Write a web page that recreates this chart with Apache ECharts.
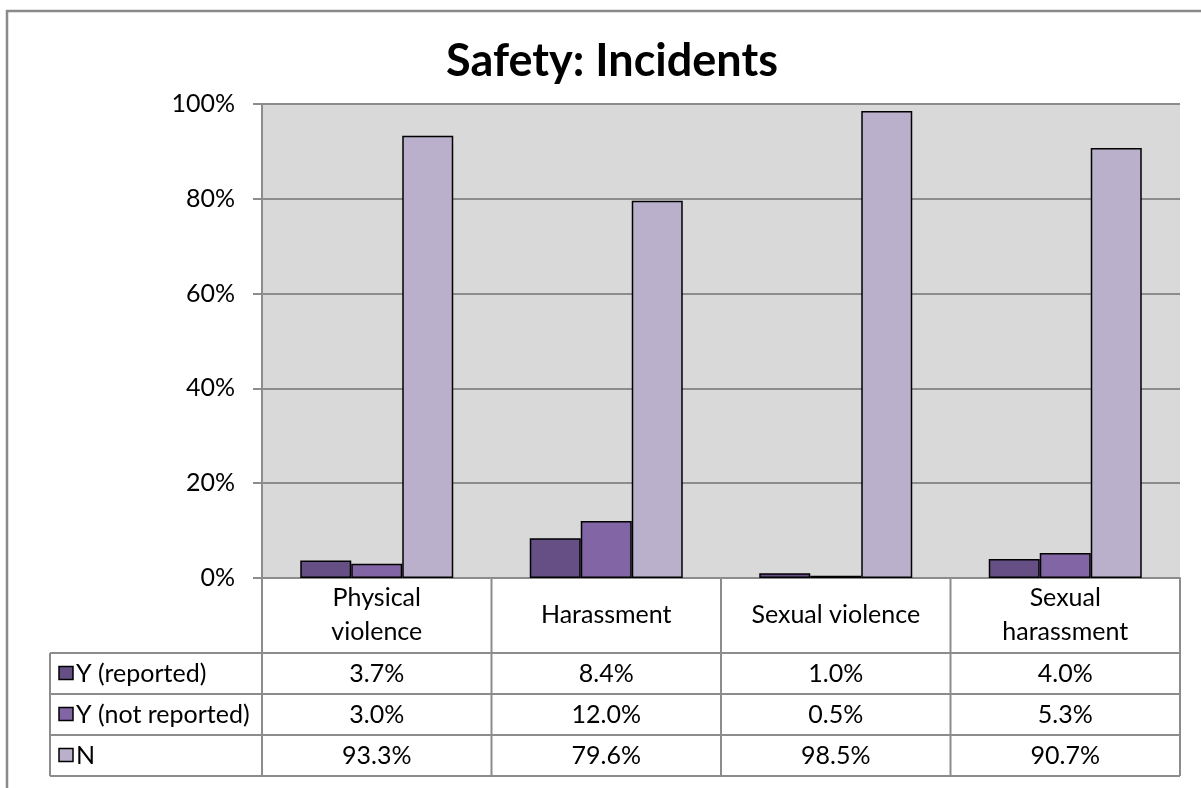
<!DOCTYPE html>
<html>
<head>
<meta charset="utf-8">
<script src="https://cdn.jsdelivr.net/npm/echarts@6/dist/echarts.min.js"></script>
<style>
html,body{margin:0;padding:0;background:#fff;}
#chart{width:1201px;height:788px;}
</style>
</head>
<body>
<div id="chart"></div>
<script>
// ---- data ----
var categories = ['Physical violence', 'Harassment', 'Sexual violence', 'Sexual harassment'];
var categoryLabels = ['Physical\nviolence', 'Harassment', 'Sexual violence', 'Sexual\nharassment'];
var seriesNames = ['Y (reported)', 'Y (not reported)', 'N'];
var yReported = [3.7, 8.4, 1.0, 4.0];
var yNotReported = [3.0, 12.0, 0.5, 5.3];
var nValues = [93.3, 79.6, 98.5, 90.7];
var yTicks = [0, 20, 40, 60, 80, 100];
var titleText = 'Safety: Incidents';

// ---- style / layout ----
var colors = ['#654F84', '#8265A5', '#BAB0CC'];
var FONT = 'Lato, "Liberation Sans", sans-serif';
var FS = 25;
var gridLeft = 262, gridRight = 1180, gridTop = 104, gridBottom = 578;
var tableLeft = 50;
var rowLines = [653, 694, 735, 776];
var lineColor = '#8C8C8C';

var allSeries = [yReported, yNotReported, nValues];

var chart = echarts.init(document.getElementById('chart'), null, {renderer: 'canvas'});

var graphics = [];
// outer frame (extends beyond the picture on right and bottom)
graphics.push({
  type: 'polyline', silent: true,
  shape: {points: [[7, 800], [7, 11], [1210, 11]]},
  style: {stroke: '#8A8A8A', lineWidth: 2.5, fill: null}
});
var colW = (gridRight - gridLeft) / categories.length;
// horizontal table lines
rowLines.forEach(function (y) {
  graphics.push({
    type: 'line', silent: true,
    shape: {x1: tableLeft, y1: y, x2: gridRight, y2: y},
    style: {stroke: lineColor, lineWidth: 2}
  });
});
// vertical table lines
for (var c = 0; c <= categories.length; c++) {
  var x = gridLeft + c * colW;
  graphics.push({
    type: 'line', silent: true,
    shape: {x1: x, y1: gridBottom, x2: x, y2: rowLines[rowLines.length - 1]},
    style: {stroke: lineColor, lineWidth: 2}
  });
}
graphics.push({
  type: 'line', silent: true,
  shape: {x1: tableLeft, y1: rowLines[0], x2: tableLeft, y2: rowLines[rowLines.length - 1]},
  style: {stroke: lineColor, lineWidth: 2}
});
// table rows: legend key + values
for (var r = 0; r < seriesNames.length; r++) {
  var cy = (rowLines[r] + rowLines[r + 1]) / 2;
  graphics.push({
    type: 'rect', silent: true,
    shape: {x: 59, y: cy - 7, width: 14, height: 13},
    style: {fill: colors[r], stroke: '#000', lineWidth: 1.5}
  });
  graphics.push({
    type: 'text', silent: true,
    style: {x: 76, y: cy, text: seriesNames[r], fill: '#000', font: FS + 'px ' + FONT, verticalAlign: 'middle', align: 'left'}
  });
  for (var c2 = 0; c2 < categories.length; c2++) {
    graphics.push({
      type: 'text', silent: true,
      style: {
        x: gridLeft + (c2 + 0.5) * colW, y: cy,
        text: allSeries[r][c2].toFixed(1) + '%',
        fill: '#000', font: FS + 'px ' + FONT, verticalAlign: 'middle', align: 'center'
      }
    });
  }
}

var barStyle = function (i) {
  return {color: colors[i], borderColor: '#000', borderWidth: 1.5};
};

var option = {
  animation: false,
  backgroundColor: '#fff',
  title: {
    text: titleText, left: 607, top: 34, textAlign: 'center',
    textStyle: {fontFamily: FONT, fontWeight: 'bold', fontSize: 45, color: '#000'}
  },
  grid: {
    left: gridLeft, top: gridTop, width: gridRight - gridLeft, height: gridBottom - gridTop,
    show: true, backgroundColor: '#D9D9D9', borderWidth: 0, containLabel: false
  },
  xAxis: {
    type: 'category',
    data: categories,
    axisLine: {show: true, lineStyle: {color: lineColor, width: 2}},
    axisTick: {show: false},
    axisLabel: {
      formatter: function (v, idx) { return categoryLabels[idx]; },
      fontFamily: FONT, fontSize: FS, color: '#000', lineHeight: 34,
      margin: 37, verticalAlign: 'middle', align: 'center', interval: 0
    },
    splitLine: {show: false}
  },
  yAxis: {
    type: 'value', min: 0, max: 100, interval: 20,
    axisLine: {show: true, lineStyle: {color: lineColor, width: 2}},
    axisTick: {show: true, length: 9, lineStyle: {color: lineColor, width: 2}},
    axisLabel: {
      formatter: function (v) { return v + '%'; },
      fontFamily: FONT, fontSize: FS, color: '#000', margin: 27
    },
    splitLine: {show: true, lineStyle: {color: lineColor, width: 2}}
  },
  series: [
    {name: seriesNames[0], type: 'bar', data: yReported, barWidth: 51, barGap: '0%', barCategoryGap: '33.3%', itemStyle: barStyle(0)},
    {name: seriesNames[1], type: 'bar', data: yNotReported, barWidth: 51, barGap: '0%', barCategoryGap: '33.3%', itemStyle: barStyle(1)},
    {name: seriesNames[2], type: 'bar', data: nValues, barWidth: 51, barGap: '0%', barCategoryGap: '33.3%', itemStyle: barStyle(2)}
  ],
  graphic: graphics
};
chart.setOption(option);
</script>
</body>
</html>
